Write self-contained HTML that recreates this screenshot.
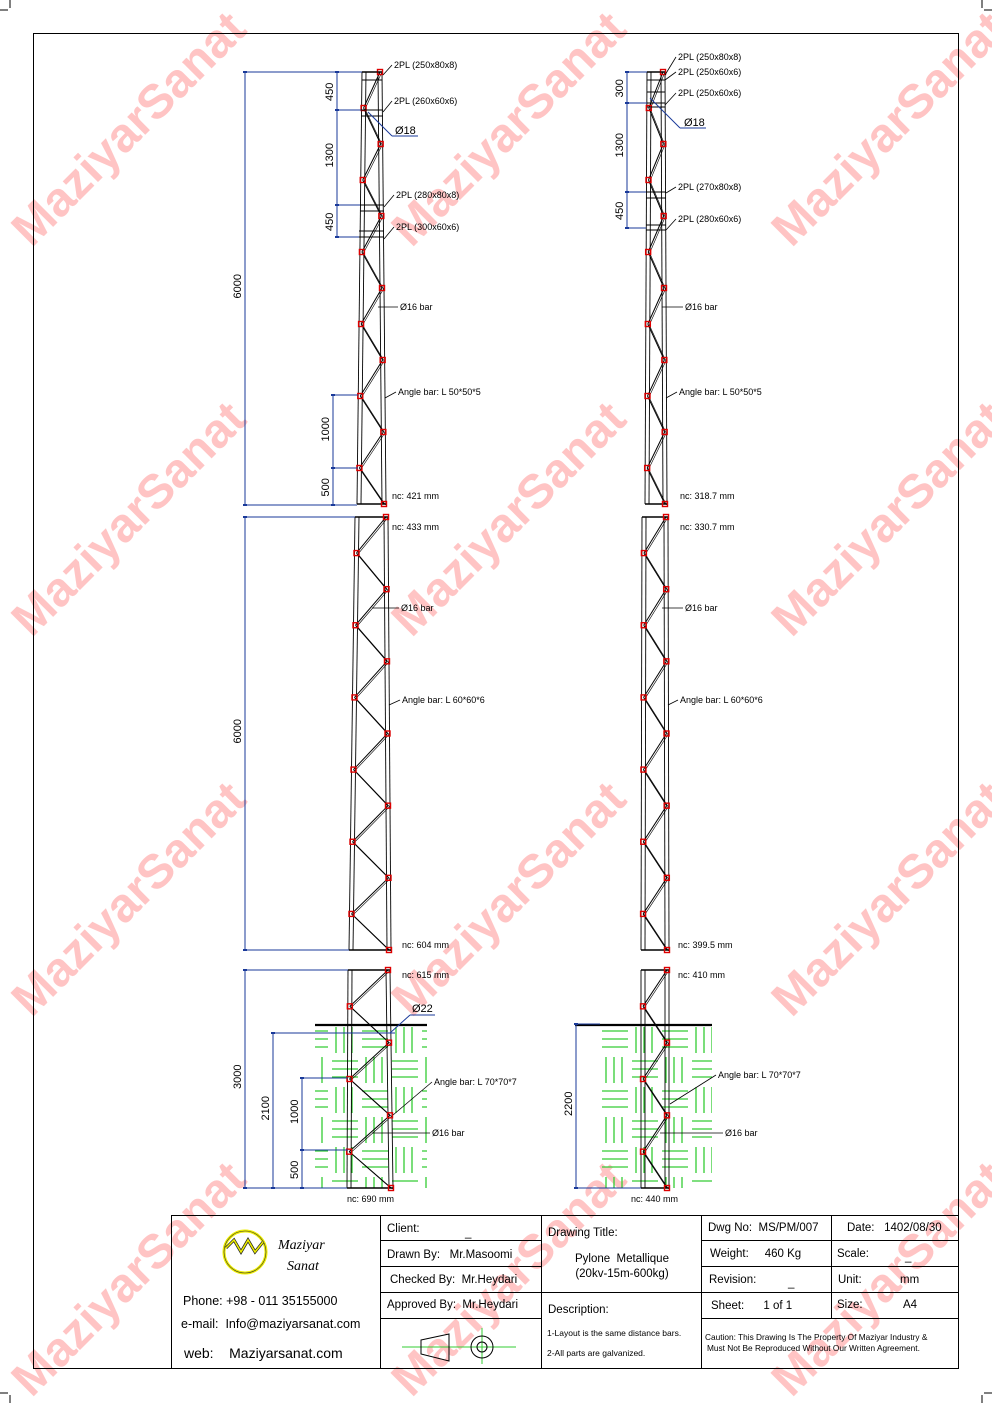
<!DOCTYPE html>
<html><head><meta charset="utf-8"><style>
html,body{margin:0;padding:0;background:#fff;}
svg{display:block;font-family:"Liberation Sans",Arial,sans-serif;}
svg text{white-space:pre;}
</style></head><body>
<svg id="s" width="992" height="1403" viewBox="0 0 992 1403" xmlns="http://www.w3.org/2000/svg">
<defs>
<pattern id="soil" x="0" y="1025" width="60" height="60" patternUnits="userSpaceOnUse">
<g stroke="#33cc33" stroke-width="1.3" fill="none">
<line x1="2" y1="6" x2="28" y2="6"/><line x1="2" y1="14" x2="28" y2="14"/><line x1="2" y1="22" x2="28" y2="22"/>
<line x1="36" y1="2" x2="36" y2="28"/><line x1="44" y1="2" x2="44" y2="28"/><line x1="52" y1="2" x2="52" y2="28"/>
<line x1="6" y1="32" x2="6" y2="58"/><line x1="14" y1="32" x2="14" y2="58"/><line x1="22" y1="32" x2="22" y2="58"/>
<line x1="32" y1="36" x2="58" y2="36"/><line x1="32" y1="44" x2="58" y2="44"/><line x1="32" y1="52" x2="58" y2="52"/>
</g></pattern>
</defs>
<g id="wm" font-size="48" font-weight="bold" fill="#ffc4c4"></g>
<g id="draw"></g>
</svg>
<script>
const NS="http://www.w3.org/2000/svg";
const wm=document.getElementById('wm'), D=document.getElementById('draw');
function el(tag,attrs,parent,text){const e=document.createElementNS(NS,tag);for(const k in attrs)e.setAttribute(k,attrs[k]);if(text!==undefined)e.textContent=text;(parent||D).appendChild(e);return e;}
[[140,140],[520,140],[900,140],[140,530],[520,530],[900,530],[140,910],[520,910],[900,910],[140,1290],[520,1290],[900,1290]].forEach(([x,y])=>{
 el('text',{x:x,y:y,'text-anchor':'middle',transform:`rotate(-45 ${x} ${y})`},wm,'MaziyarSanat');});
function L(x1,y1,x2,y2,c,w,extra){return el('line',Object.assign({x1,y1,x2,y2,stroke:c||'#000','stroke-width':w||1},extra||{}));}
function T(x,y,s,size,anchor,rot){const a={x,y,'font-size':size||9,fill:'#000'};if(anchor)a['text-anchor']=anchor;if(rot)a.transform=`rotate(-90 ${x} ${y})`;return el('text',a,D,s);}
el('rect',{x:315,y:1027,width:112,height:161,fill:'url(#soil)'});
el('rect',{x:600,y:1027,width:112,height:161,fill:'url(#soil)'});
el('rect',{x:33.5,y:33.5,width:925,height:1335,fill:'none',stroke:'#000','stroke-width':1});
L(10,0,10,8);L(982,0,982,8);L(0,10,8,10);L(984,10,992,10);L(10,1395,10,1403);L(982,1395,982,1403);L(0,1393,8,1393);L(984,1393,992,1393);
function section(y0,y1,lx0,rx0,lx1,rx1,n,startRight){
 const lx=y=>lx0+(lx1-lx0)*(y-y0)/(y1-y0), rx=y=>rx0+(rx1-rx0)*(y-y0)/(y1-y0);
 L(lx0,y0,lx1,y1,'#000',0.9);L(lx0+4,y0,lx1+4,y1,'#000',0.9);
 L(rx0,y0,rx1,y1,'#000',0.9);L(rx0-4,y0,rx1-4,y1,'#000',0.9);
 L(lx0,y0,rx0,y0,'#000',1.5);L(lx1,y1,rx1,y1,'#000',1.5);
 let pts=[];for(let i=0;i<=n;i++){const y=y0+(y1-y0)*i/n;const right=(i%2==0)==startRight;pts.push([right?rx(y)-2:lx(y)+2,y]);}
 for(let i=0;i<n;i++){L(pts[i][0],pts[i][1],pts[i+1][0],pts[i+1][1],'#000',1);L(pts[i][0]+1.5,pts[i][1]+1,pts[i+1][0]+1.5,pts[i+1][1]+1,'#000',0.6);}
 pts.forEach(p=>el('rect',{x:p[0]-2.5,y:p[1]-2.5,width:5,height:5,fill:'none',stroke:'#d00','stroke-width':1.4}));
}
section(72,504,362,382,357,386,12,true);
section(517,950,355,388,349,391,12,true);
section(970,1188,348,390,347,393,6,true);
section(72,504,647,665,645,667,12,true);
section(517,950,642,668,641,669,12,true);
section(970,1188,641,669,641,669,6,true);
[[72,362,382],[80,362,382],[110,361,383],[116,361,383],[205,360,384],[211,360,384],[231,359,384],[237,359,384]].forEach(b=>L(b[1],b[0],b[2],b[0],'#000',1));
[[72,647,665],[80,647,665],[92,647,665],[103,647,665],[107,647,665],[192,646,666],[198,646,666],[225,646,666],[230,646,666]].forEach(b=>L(b[1],b[0],b[2],b[0],'#000',1));
L(315,1025,427,1025,'#000',2.2);L(575,1025,712,1025,'#000',2.2);
const B='#1a3a9a';
function vdim(x,y0,y1,label,tx){L(x,y0,x,y1,B,1);L(x-2,y0,x+2,y0,B,2);L(x-2,y1,x+2,y1,B,2);T(tx||x-4,(y0+y1)/2+10,label,11,null,true);}
vdim(245,72,505,'6000');L(245,72,362,72,B,1);L(245,505,357,505,B,1);
vdim(245,517,950,'6000');L(245,517,355,517,B,1);L(245,950,349,950,B,1);
vdim(245,970,1188,'3000');L(245,970,348,970,B,1);L(245,1188,347,1188,B,1);
vdim(337,72,110,'450');vdim(337,110,205,'1300');vdim(337,205,237,'450');
L(337,110,361,110,B,1);L(337,205,360,205,B,1);L(337,237,359,237,B,1);
vdim(333,395,468,'1000');vdim(333,468,505,'500');L(333,395,358,395,B,1);L(333,468,358,468,B,1);
vdim(273,1033,1188,'2100');L(273,1033,395,1033,B,1);
vdim(302,1078,1150,'1000');vdim(302,1150,1188,'500');L(302,1078,348,1078,B,1);L(302,1150,348,1150,B,1);
vdim(627,72,103,'300');vdim(627,103,192,'1300');vdim(627,192,228,'450');
L(627,72,647,72,B,1);L(627,103,647,103,B,1);L(627,192,646,192,B,1);L(627,228,646,228,B,1);
vdim(576,1024,1188,'2200');L(576,1024,600,1024,B,1);L(576,1188,641,1188,B,1);
function lab(x1,y1,x2,y2,s,sz){L(x1,y1,x2,y2,'#000',0.8);T(x2+2,y2+3,s,sz||9);}
lab(383,75,392,65,'2PL (250x80x8)');lab(383,112,392,101,'2PL (260x60x6)');
lab(384,207,394,195,'2PL (280x80x8)');lab(384,239,394,227,'2PL (300x60x6)');
L(368,112,392,136,B,1);L(392,136,418,136,B,1);T(395,134,'Ø18',11);
lab(378,307,398,307,'Ø16 bar');lab(385,398,396,392,'Angle bar: L 50*50*5');
T(392,499,'nc: 421 mm');T(392,530,'nc: 433 mm');
lab(372,608,399,608,'Ø16 bar');lab(389,705,400,700,'Angle bar: L 60*60*6');
T(402,948,'nc: 604 mm');T(402,978,'nc: 615 mm');
L(390,1033,410,1015,B,1);L(410,1015,435,1015,B,1);T(412,1012,'Ø22',11);
lab(393,1115,432,1082,'Angle bar: L 70*70*7');lab(372,1133,430,1133,'Ø16 bar');
T(347,1202,'nc: 690 mm');
lab(665,75,676,57,'2PL (250x80x8)');lab(665,80,676,72,'2PL (250x60x6)');lab(665,105,676,93,'2PL (250x60x6)');
L(650,98,680,128,B,1);L(680,128,706,128,B,1);T(684,126,'Ø18',11);
lab(666,193,676,187,'2PL (270x80x8)');lab(666,230,676,219,'2PL (280x60x6)');
lab(662,307,683,307,'Ø16 bar');lab(666,398,677,392,'Angle bar: L 50*50*5');
T(680,499,'nc: 318.7 mm');T(680,530,'nc: 330.7 mm');
lab(662,608,683,608,'Ø16 bar');lab(668,705,678,700,'Angle bar: L 60*60*6');
T(678,948,'nc: 399.5 mm');T(678,978,'nc: 410 mm');
lab(670,1104,716,1075,'Angle bar: L 70*70*7');lab(660,1133,723,1133,'Ø16 bar');
T(631,1202,'nc: 440 mm');
const tb=el('g',{stroke:'#000','stroke-width':1,fill:'none'});
el('rect',{x:171.5,y:1215.5,width:787,height:153},tb);
[380.5,541.5,701.5].forEach(x=>el('line',{x1:x,y1:1215,x2:x,y2:1368},tb));
el('line',{x1:831.5,y1:1215,x2:831.5,y2:1318},tb);
[1240.5,1266.5,1292.5,1318.5].forEach(y=>el('line',{x1:380,y1:y,x2:541,y2:y},tb));
el('line',{x1:541,y1:1292.5,x2:701,y2:1292.5},tb);
[1240.5,1266.5,1292.5,1318.5].forEach(y=>el('line',{x1:701,y1:y,x2:958,y2:y},tb));
el('ellipse',{cx:245,cy:1252,rx:21,ry:21,fill:'none',stroke:'#ee0','stroke-width':3});
el('ellipse',{cx:245,cy:1252,rx:21,ry:21,fill:'none',stroke:'#333','stroke-width':0.6});
el('polyline',{points:'226,1248 234,1240 241,1252 248,1240 255,1252 263,1242',fill:'none',stroke:'#222','stroke-width':3});
el('polyline',{points:'226,1248 234,1240 241,1252 248,1240 255,1252 263,1242',fill:'none',stroke:'#ee0','stroke-width':1.5});
el('text',{x:278,y:1249,'font-size':14,'font-style':'italic','font-family':'Liberation Serif,serif'},D,'Maziyar');
el('text',{x:287,y:1270,'font-size':14,'font-style':'italic','font-family':'Liberation Serif,serif'},D,'Sanat');
T(183,1305,'Phone: +98 - 011 35155000',12.5);T(181,1328,'e-mail:  Info@maziyarsanat.com',12.5);T(184,1358,'web:    Maziyarsanat.com',14);
T(387,1232,'Client:',11.5);T(465,1236,'_',11.5);T(387,1258,'Drawn By:   Mr.Masoomi',11.5);T(390,1283,'Checked By:  Mr.Heydari',11.5);T(387,1308,'Approved By:  Mr.Heydari',11.5);
L(402,1347,516,1347,'#3c3',1);L(482,1328,482,1364,'#3c3',1);
el('polygon',{points:'421,1340 449,1334 449,1361 421,1354',fill:'none',stroke:'#000'});
el('circle',{cx:482,cy:1347,r:11,fill:'none',stroke:'#000'});el('circle',{cx:482,cy:1347,r:5,fill:'none',stroke:'#000'});
T(548,1236,'Drawing Title:',11.5);T(622,1262,'Pylone  Metallique',11.5,'middle');T(622,1277,'(20kv-15m-600kg)',11.5,'middle');
T(548,1313,'Description:',11.5);T(547,1336,'1-Layout is the same distance bars.',8.5);T(547,1356,'2-All parts are galvanized.',8.5);
T(708,1231,'Dwg No:  MS/PM/007',11.5);T(847,1231,'Date:   1402/08/30',11.5);
T(710,1257,'Weight:     460 Kg',11.5);T(837,1257,'Scale:',11.5);T(905,1260,'_',11.5);
T(709,1283,'Revision:',11.5);T(788,1286,'_',11.5);T(838,1283,'Unit:',11.5);T(900,1283,'mm',11.5);
T(711,1309,'Sheet:      1 of 1',11.5);T(837,1308,'Size:',11.5);T(903,1308,'A4',11.5);
T(705,1340,'Caution: This Drawing Is The Property Of Maziyar Industry &',8.3);T(707,1351,'Must Not Be Reproduced Without Our Written Agreement.',8.3);
</script>
</body></html>
